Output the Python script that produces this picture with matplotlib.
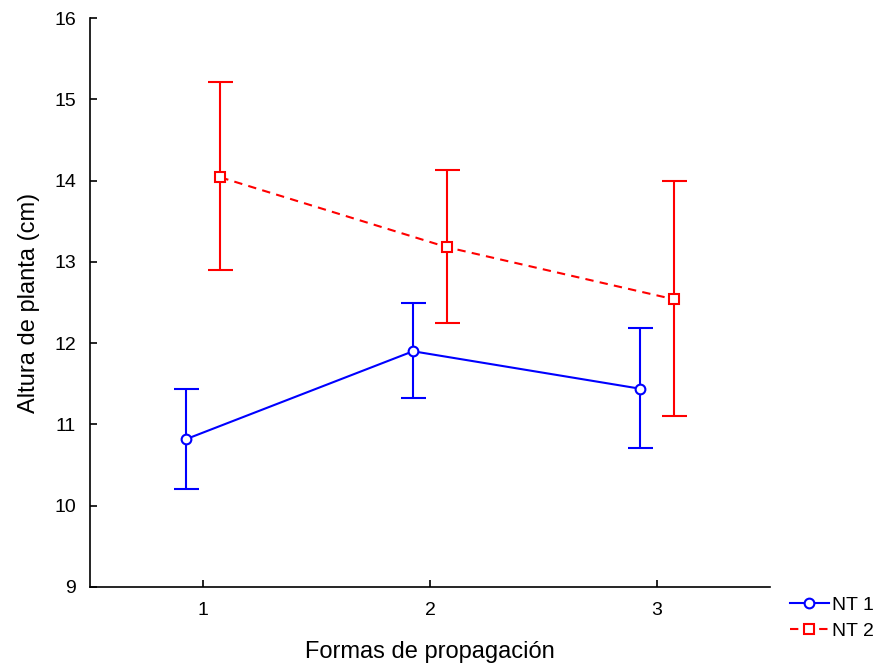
import matplotlib
matplotlib.use("Agg")
import matplotlib.pyplot as plt
from matplotlib.lines import Line2D
import numpy as np

plt.rcParams['font.family'] = ['Liberation Sans', 'DejaVu Sans']

formas = [1, 2, 3]
nt1_mean = [10.82, 11.90, 11.44]
nt1_upper = [11.44, 12.49, 12.19]
nt1_lower = [10.21, 11.32, 10.71]
nt2_mean = [14.04, 13.18, 12.54]
nt2_upper = [15.21, 14.13, 14.00]
nt2_lower = [12.90, 12.25, 11.10]

fig = plt.figure(figsize=(8.83, 6.67), dpi=100)
ax = fig.add_axes([0.102, 0.12, 0.77, 0.853])

x = np.array(formas, dtype=float)
off = 0.075

m1 = np.array(nt1_mean)
err1 = [m1 - np.array(nt1_lower), np.array(nt1_upper) - m1]
ax.errorbar(x - off, m1, yerr=err1, color='#0000ff', lw=1.5, marker='o',
            mfc='white', mec='#0000ff', ms=7, mew=1.5, capsize=9, capthick=1.5)

m2 = np.array(nt2_mean)
err2 = [m2 - np.array(nt2_lower), np.array(nt2_upper) - m2]
eb = ax.errorbar(x + off, m2, yerr=err2, color='#ff0000', lw=1.5, ls='--',
                 dashes=(4, 3), marker='s', mfc='white', mec='#ff0000', ms=7,
                 mew=1.5, capsize=9, capthick=1.5)
eb[2][0].set_linestyle('-')

ax.set_xlim(0.5, 3.5)
ax.set_ylim(9, 16)
ax.set_xticks(formas)
ax.set_yticks(range(9, 17))
ax.tick_params(axis='both', direction='in', length=5, width=1.2, labelsize=14)
ax.tick_params(axis='y', pad=10)
ax.tick_params(axis='x', pad=10.5)
for s in ['top', 'right']:
    ax.spines[s].set_visible(False)
for s in ['left', 'bottom']:
    ax.spines[s].set_linewidth(1.2)

ax.set_xlabel('Formas de propagación', fontsize=17, labelpad=16)
ax.set_ylabel('Altura de planta (cm)', fontsize=17, labelpad=10)

handles = [
    Line2D([], [], color='#0000ff', lw=1.5, marker='o', mfc='white',
           mec='#0000ff', ms=7, mew=1.5),
    Line2D([], [], color='#ff0000', lw=1.5, ls='--', dashes=(4, 3), marker='s',
           mfc='white', mec='#ff0000', ms=7, mew=1.5),
]
fig.legend(handles, ['NT 1', 'NT 2'], loc='upper left',
           bbox_to_anchor=(0.879, 0.127), frameon=False, fontsize=14,
           handlelength=2.0, handletextpad=0.15, labelspacing=0.45,
           borderpad=0.2)

fig.savefig('out.png', dpi=100)
